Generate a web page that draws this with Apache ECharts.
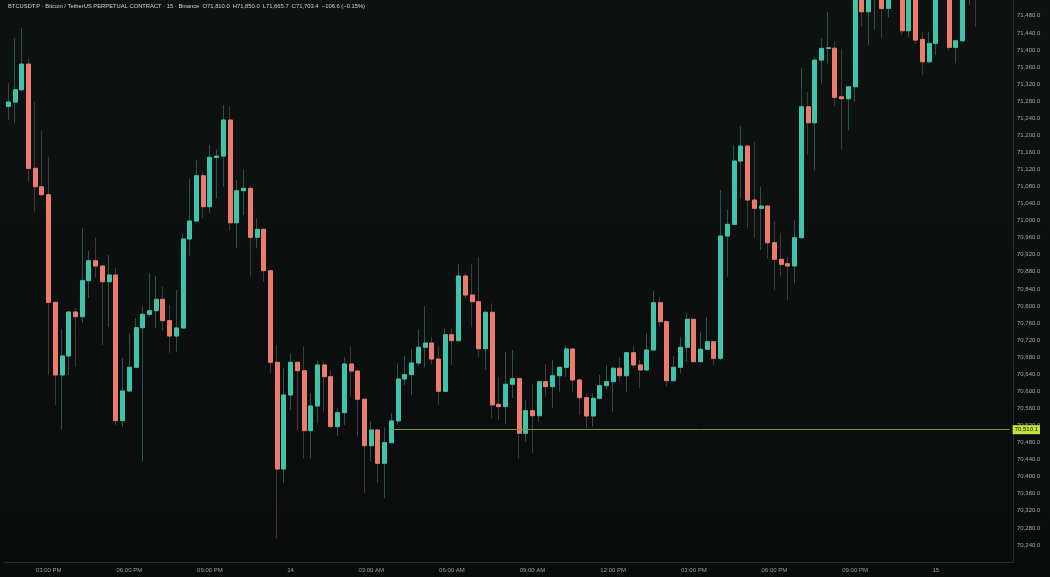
<!DOCTYPE html>
<html><head><meta charset="utf-8">
<script src="https://cdn.jsdelivr.net/npm/echarts@6/dist/echarts.min.js"></script>
<style>html,body{margin:0;padding:0;background:#0b0e0e;}#c{width:1050px;height:577px;}</style>
</head><body><div id="c"></div>
<script>
const opens = [71267.7,71277.8,71306.6,71366.8,71122.5,71079.4,71060.7,70808.6,70638.3,70682.8,
70785.9,70774.8,70859.2,70906.0,70893.6,70856.8,70872.5,70531.2,70600.8,70656.3,
70749.1,70780.5,70788.9,70815.6,70765.5,70729.6,70748.4,70956.9,70999.0,71105.2,
71032.5,71148.3,71151.3,71235.7,70995.0,71070.0,71075.6,70960.9,70979.6,70882.6,
70668.0,70418.0,70591.4,70668.0,70648.3,70507.8,70565.6,70661.7,70634.3,70517.2,
70550.0,70664.0,70647.6,70581.3,70472.6,70509.4,70431.4,70479.7,70530.5,70628.9,
70639.0,70666.4,70703.2,70713.2,70675.7,70600.1,70732.7,70718.6,70870.2,70825.7,
70810.0,70699.9,70785.1,70569.6,70564.0,70616.5,70629.6,70501.7,70554.6,70542.9,
70622.6,70610.9,70636.6,70656.3,70699.2,70626.6,70585.1,70542.2,70583.7,70613.2,
70622.6,70654.0,70636.6,70690.5,70661.7,70650.0,70696.8,70807.6,70763.1,70624.9,
70656.3,70703.2,70768.8,70669.4,70698.5,70716.3,70677.4,70963.9,70991.3,71139.6,
71174.7,71048.2,71028.8,71034.2,70948.2,70909.3,70899.0,70893.6,70959.9,71266.8,
71229.3,71376.2,71403.6,71404.0,71290.2,71285.6,71313.7,71590.0,71489.4,71580.0,
71560.0,71497.3,71560.0,71620.0,71444.9,71560.0,71424.7,71372.2,71415.3,71540.0,
71600.0,71406.0,71421.4,71620.0,71810.0];
const closes = [71277.8,71306.6,71366.8,71122.5,71079.4,71060.7,70808.6,70638.3,70682.8,70785.9,
70774.8,70859.2,70906.0,70893.6,70856.8,70872.5,70531.2,70600.8,70656.3,70749.1,
70780.5,70788.9,70815.6,70765.5,70729.6,70748.4,70956.9,70999.0,71105.2,71032.5,
71148.3,71151.3,71235.7,70995.0,71070.0,71075.6,70960.9,70979.6,70882.6,70668.0,
70418.0,70591.4,70668.0,70648.3,70507.8,70565.6,70661.7,70634.3,70517.2,70550.0,
70664.0,70647.6,70581.3,70472.6,70509.4,70431.4,70479.7,70530.5,70628.9,70639.0,
70666.4,70703.2,70713.2,70675.7,70600.1,70732.7,70718.6,70870.2,70825.7,70810.0,
70699.9,70785.1,70568.0,70564.0,70616.5,70629.6,70501.7,70554.6,70542.9,70622.6,
70610.9,70636.6,70656.3,70699.2,70626.6,70585.1,70542.2,70583.7,70613.2,70622.6,
70654.0,70636.6,70690.5,70661.7,70650.0,70696.8,70807.6,70763.1,70624.9,70656.3,
70703.2,70768.8,70669.4,70698.5,70716.3,70677.4,70963.9,70991.3,71139.6,71174.7,
71048.2,71028.8,71034.2,70948.2,70909.3,70897.6,70893.6,70959.9,71266.8,71229.3,
71376.2,71403.6,71405.0,71288.8,71285.6,71313.7,71560.0,71489.4,71580.0,71640.0,
71497.3,71560.0,71620.0,71444.9,71560.0,71423.1,71372.2,71415.3,71540.0,71600.0,
71406.0,71421.4,71620.0,71700.0,71703.4];
const lows = [71235.7,71227.9,71304.0,71091.1,71020.8,71057.6,70638.3,70568.0,70509.4,70638.3,
70657.7,70760.1,70818.7,70865.5,70708.5,70750.7,70521.1,70516.4,70599.0,70655.0,
70435.2,70774.8,70747.7,70742.0,70689.1,70692.9,70746.0,70917.8,70998.0,71005.4,
71018.5,71052.2,71079.4,70976.3,70935.1,71013.1,70868.6,70935.1,70856.8,70642.2,
70255.7,70384.6,70556.3,70507.8,70443.1,70443.1,70525.1,70552.3,70516.0,70495.4,
70521.1,70587.4,70493.7,70361.1,70435.2,70384.6,70349.4,70478.0,70521.1,70614.8,
70591.4,70657.7,70656.3,70664.0,70568.0,70598.0,70661.7,70717.0,70818.0,70750.0,
70679.7,70650.0,70536.8,70532.8,70523.5,70583.7,70443.1,70482.0,70454.8,70528.9,
70587.4,70560.3,70599.1,70634.3,70599.1,70544.6,70513.4,70517.2,70582.0,70603.1,
70552.3,70622.6,70599.1,70654.0,70607.1,70648.0,70695.0,70751.4,70610.9,70623.0,
70642.2,70669.4,70668.0,70668.0,70697.0,70661.7,70673.0,70868.6,70989.0,71052.2,
70981.9,70958.5,70931.1,70911.7,70837.4,70868.6,70814.0,70853.1,70958.0,71153.7,
71118.5,71321.6,71368.5,71268.5,71165.4,71212.2,71278.5,71454.2,71411.4,71446.5,
71427.1,71476.3,71525.0,71434.8,71430.8,71413.7,71341.1,71368.5,71387.9,71525.0,
71399.6,71368.5,71419.0,71505.0,71454.2];
const highs = [71321.6,71427.8,71451.2,71380.2,71278.5,71212.2,71149.7,70810.0,70746.0,70787.0,
70795.2,70982.6,70929.5,70959.2,70895.0,70919.4,70888.9,70678.1,70737.4,70771.1,
70799.9,70877.2,70870.2,70845.1,70802.3,70837.4,70970.2,71099.1,71141.9,71114.0,
71177.1,71167.0,71270.8,71268.0,71095.1,71120.2,71083.4,71005.4,70982.0,70884.0,
70708.5,70654.0,70689.1,70670.0,70706.2,70595.4,70671.8,70671.8,70650.0,70560.3,
70681.1,70706.2,70649.0,70583.0,70528.9,70511.0,70515.7,70548.5,70665.7,70682.8,
70699.2,70745.3,70799.9,70728.0,70706.2,70747.7,70747.7,70898.3,70876.5,70898.3,
70914.0,70787.0,70806.2,70634.3,70692.9,70696.8,70631.0,70579.7,70617.2,70624.0,
70664.0,70673.4,70658.0,70706.9,70701.0,70628.0,70595.4,70595.4,70638.3,70661.7,
70659.0,70679.7,70692.0,70706.9,70673.4,70736.0,70835.8,70821.7,70765.0,70682.8,
70728.0,70782.8,70770.0,70739.7,70773.4,70718.0,71071.7,71026.5,71177.1,71221.6,
71176.0,71184.8,71079.4,71036.0,70999.0,70971.6,70915.4,71001.4,71356.8,71302.0,
71384.0,71427.8,71489.4,71419.1,71401.3,71315.0,71600.0,71630.0,71610.0,71680.0,
71590.0,71600.0,71650.0,71640.0,71600.0,71580.0,71442.5,71442.5,71580.0,71650.0,
71620.0,71423.0,71660.0,71760.0,71850.0];

const hLineValue = 70510.1;
const hLineStartIndex = 57;
const slotCount = 150;          // 145 bars + right margin
const startMinute = 13 * 60 + 30; // first bar 13:30 on the 13th
const startDay = 13;
const header = 'BTCUSDT.P · Bitcoin / TetherUS PERPETUAL CONTRACT · 15 · Binance';
const ohlc = {O: '71,810.0', H: '71,850.0', L: '71,665.7', C: '71,703.4', chg: '−106.6 (−0.15%)'};

const UP = '#3fc3ab', DOWN = '#ec7b6b', WICK_UP = '#2d504a', WICK_DOWN = '#423837';

const cats = [];
for (let i = 0; i < slotCount; i++) cats.push(String(i));
function minuteOf(i){ return startMinute + 15 * i; }
function fmtTime(i){
  const m = minuteOf(i), mod = m % 1440, day = startDay + Math.floor(m / 1440);
  if (mod === 0) return String(day);
  let h = Math.floor(mod / 60), mm = mod % 60;
  const ap = h >= 12 ? 'PM' : 'AM';
  h = h % 12; if (h === 0) h = 12;
  return (h < 10 ? '0' : '') + h + ':' + (mm < 10 ? '0' : '') + mm + ' ' + ap;
}

const wickData = opens.map((o, i) => [o, closes[i], lows[i], highs[i]]);
const bodyData = opens.map((o, i) => [o, closes[i], Math.min(o, closes[i]), Math.max(o, closes[i])]);

const chart = echarts.init(document.getElementById('c'), null, {renderer: 'canvas'});
const FONT = 'Liberation Sans';
const TXT = {fontSize: 6, fontFamily: FONT, fontWeight: 'normal'};
const HTXT = {fontSize: 5.8, fontFamily: FONT, fontWeight: 'normal', color: '#cdd0d6'};
chart.setOption({
  animation: false,
  backgroundColor: {type: 'linear', x: 0, y: 0, x2: 0, y2: 1, colorStops: [
    {offset: 0, color: '#0e1312'}, {offset: 1, color: '#0a0c0c'}]},
  textStyle: {fontFamily: FONT},
  title: {
    left: 8, top: 3, padding: 0,
    text: '{a|' + header + '}  {a|O' + ohlc.O + '}  {a|H' + ohlc.H + '}  {a|L' + ohlc.L + '}  {a|C' + ohlc.C + '}  {a|' + ohlc.chg + '}',
    textStyle: Object.assign({rich: {a: HTXT}}, HTXT)
  },
  grid: {left: 5, right: 37, top: 0, bottom: 15, containLabel: false},
  xAxis: {
    type: 'category', data: cats, boundaryGap: true,
    axisLine: {show: true, lineStyle: {color: '#2a2e33'}},
    axisTick: {show: false},
    splitLine: {show: false},
    axisLabel: Object.assign({
      interval: (idx) => minuteOf(idx) % 180 === 0,
      formatter: (v, idx) => fmtTime(idx),
      color: '#9a9da4', margin: 5
    }, TXT)
  },
  yAxis: {
    type: 'value', position: 'right', scale: true,
    min: 70200, max: 71517, interval: 40,
    axisLine: {show: true, lineStyle: {color: '#2a2e33'}},
    axisTick: {show: false},
    splitLine: {show: false},
    axisLabel: Object.assign({
      showMinLabel: false, showMaxLabel: false,
      formatter: v => v.toLocaleString('en-US', {minimumFractionDigits: 1, maximumFractionDigits: 1}),
      color: '#a3a6ad', margin: 4
    }, TXT)
  },
  series: [
    {
      name: 'wick', type: 'candlestick', data: wickData, barWidth: 4.5, clip: true,
      itemStyle: {color: 'rgba(0,0,0,0)', color0: 'rgba(0,0,0,0)', borderColor: WICK_UP, borderColor0: WICK_DOWN, borderWidth: 1}
    },
    {
      name: 'body', type: 'candlestick', data: bodyData, barWidth: 4.5, clip: true,
      itemStyle: {color: UP, color0: DOWN, borderColor: UP, borderColor0: DOWN, borderWidth: 1},
      markLine: {
        silent: true, symbol: ['none', 'none'], animation: false,
        lineStyle: {color: '#7d9a2a', width: 1, type: 'solid'},
        label: Object.assign({
          show: true, position: 'end', distance: 3,
          formatter: () => hLineValue.toLocaleString('en-US', {minimumFractionDigits: 1}),
          backgroundColor: '#c4e23a', color: '#10140a',
          padding: [2, 2, 1, 2]
        }, TXT),
        data: [[{coord: [cats[hLineStartIndex], hLineValue]}, {coord: [cats[slotCount - 1], hLineValue]}]]
      }
    }
  ]
});
</script></body></html>
